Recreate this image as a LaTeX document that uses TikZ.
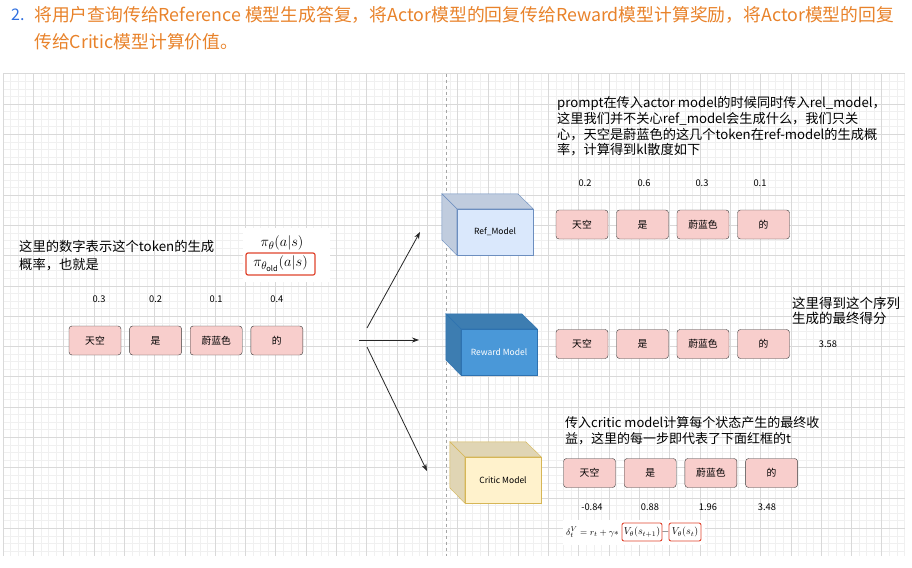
\documentclass[tikz,border=0pt]{standalone}
\usepackage{fontspec}
\setmainfont{Noto Sans CJK SC}
\usetikzlibrary{positioning, calc, arrows.meta}
\definecolor{headblue}{HTML}{2F6FE0}
\definecolor{headorange}{HTML}{E8822A}
\definecolor{tokpink}{HTML}{F8CECC}
\definecolor{tokedge}{HTML}{3A3A3A}
\definecolor{refblue}{HTML}{DAE8FC}
\definecolor{refedge}{HTML}{6C8EBF}
\definecolor{rwblue}{HTML}{4A98D8}
\definecolor{rwedge}{HTML}{2E72B0}
\definecolor{crityellow}{HTML}{FFF2CC}
\definecolor{critedge}{HTML}{D6B656}
\definecolor{boxred}{HTML}{E0442E}

\begin{document}
\begin{tikzpicture}[
    x=1pt, y=-1pt,
    minorline/.style={draw=black!6, line width=0.5pt},
    majorline/.style={draw=black!15, line width=0.6pt},
    token/.style={rectangle, draw=tokedge, fill=tokpink, rounded corners=3pt, minimum width=52pt, minimum height=29pt, inner sep=0pt, font=\fontsize{9.8}{10}\selectfont},
    prob/.style={inner sep=0pt, font=\fontsize{9.3}{10}\selectfont},
    note/.style={anchor=west, align=left, inner sep=0pt, font=\fontsize{13}{15.5}\selectfont},
    cubefront/.style={rectangle, minimum width=76pt, minimum height=46pt, inner sep=0pt, font=\fontsize{8.5}{9}\selectfont},
    redbox/.style={draw=boxred, line width=1.2pt, rounded corners=2pt, inner sep=0pt},
    feed/.style={-{Stealth[length=7pt,width=5pt]}, line width=0.8pt, black!85}
  ]
  \useasboundingbox (0,0) rectangle (912,567);

  % --- Heading ---
  \node[anchor=west, inner sep=0pt, text=headblue, font=\fontsize{16}{16}\selectfont] (num) at (11,15) {2.};
  \node[anchor=west, inner sep=0pt, text=headorange, font=\fontsize{17.8}{27}\selectfont, align=left] (head) at (34,28)
    {将用户查询传给Reference 模型生成答复，将Actor模型的回复传给Reward模型计算奖励，将Actor模型的回复\\传给Critic模型计算价值。};

  % --- Canvas grid ---
  \fill[white] (3,73.7) rectangle (905,556);
  \foreach \i in {0,...,119} \draw[minorline] ({3+\i*7.575},73.7) -- ({3+\i*7.575},556);
  \foreach \j in {0,...,63} \draw[minorline] (3,{73.7+\j*7.575}) -- (905,{73.7+\j*7.575});
  \foreach \i in {0,...,29} \draw[majorline] ({3+\i*30.3},73.7) -- ({3+\i*30.3},556);
  \foreach \j in {0,...,15} \draw[majorline] (3,{73.7+\j*30.3}) -- (905,{73.7+\j*30.3});
  \draw[black!35, dashed, line width=0.6pt] (446.5,73.7) -- (446.5,556);

  % --- Input tokens ---
  \node[note, font=\fontsize{13.3}{18}\selectfont] (intro) at (19,256) {这里的数字表示这个token的生成\\概率，也就是};
  \fill[white] (243,228) rectangle (330,282);
  \node[inner sep=0pt, font=\fontsize{15}{15}\selectfont] (pinum) at (282,243) {$\pi_\theta(a|s)$};
  \node[redbox, minimum width=69pt, minimum height=22pt, font=\fontsize{15}{15}\selectfont] (piden) at (280.5,264) {$\pi_{\theta_{\mathrm{old}}}(a|s)$};
  \foreach \w/\p [count=\i] in {天空/0.3, 是/0.2, 蔚蓝色/0.1, 的/0.4} {
    \node[token] (in\i) at ({95+60.6*(\i-1)},340.5) {\w};
    \node[prob, above=23pt of in\i, xshift={(\i==1)*4pt}] (inp\i) {\p};
  }

  % --- Feeds ---
  \coordinate (upstart) at (367,328);
  \coordinate (midstart) at (359,340);
  \coordinate (lowstart) at (367,347);
  \coordinate (upend) at (420,232);
  \coordinate (midend) at (419,340);
  \coordinate (lowend) at (427,471);
  \draw[feed] (upstart) -- (upend);
  \draw[feed] (midstart) -- (midend);
  \draw[feed] (lowstart) -- (lowend);

  % --- Ref model ---
  \node[cubefront, draw=refedge, fill=refblue] (ref) at (495,232) {Ref\_Model};
  \draw[draw=refedge, fill=refblue!88!black] (ref.north west) -- ++(-15,-15) -- ++(76,0) -- (ref.north east) -- cycle;
  \draw[draw=refedge, fill=refblue!88!black] (ref.north west) -- ++(-15,-15) -- ++(0,46) -- (ref.south west) -- cycle;
  \node[note, font=\fontsize{13.2}{15.6}\selectfont] (refnote) at (557,126.5)
    {prompt在传入actor model的时候同时传入rel\_model，\\这里我们并不关心ref\_model会生成什么，我们只关\\心，天空是蔚蓝色的这几个token在ref-model的生成概\\率，计算得到kl散度如下};
  \foreach \w/\p/\px [count=\i] in {天空/0.2/585, 是/0.6/644, 蔚蓝色/0.3/702, 的/0.1/760} {
    \node[token] (rf\i) at ({582+60.5*(\i-1)},224.5) {\w};
    \node[prob] (rfp\i) at (\px,183) {\p};
  }

  % --- Reward model ---
  \node[cubefront, draw=rwedge, fill=rwblue, text=white] (rw) at (499,352) {Reward Model};
  \draw[draw=rwedge, fill=rwblue!82!black] (rw.north west) -- ++(-15,-15) -- ++(76,0) -- (rw.north east) -- cycle;
  \draw[draw=rwedge, fill=rwblue!82!black] (rw.north west) -- ++(-15,-15) -- ++(0,46) -- (rw.south west) -- cycle;
  \foreach \w [count=\i] in {天空, 是, 蔚蓝色, 的}
    \node[token] (rt\i) at ({582+60.5*(\i-1)},344) {\w};
  \node[note, font=\fontsize{13.5}{15}\selectfont] (rwnote) at (792,310.5) {这里得到这个序列\\生成的最终得分};
  \node[prob] (score) at (828,344) {3.58};

  % --- Critic model ---
  \node[cubefront, draw=critedge, fill=crityellow] (crit) at (503,480) {Critic Model};
  \draw[draw=critedge, fill=crityellow!88!black] (crit.north west) -- ++(-15,-15) -- ++(76,0) -- (crit.north east) -- cycle;
  \draw[draw=critedge, fill=crityellow!88!black] (crit.north west) -- ++(-15,-15) -- ++(0,46) -- (crit.south west) -- cycle;
  \node[note, font=\fontsize{13}{16}\selectfont] (critnote) at (565,431) {传入critic model计算每个状态产生的最终收\\益，这里的每一步即代表了下面红框的t};
  \foreach \w/\p/\px [count=\i] in {天空/-0.84/592, 是/0.88/650, 蔚蓝色/1.96/708, 的/3.48/767} {
    \node[token] (ct\i) at ({589.5+60.7*(\i-1)},473) {\w};
    \node[prob] (ctp\i) at (\px,507) {\p};
  }
  \fill[white] (563,520) rectangle (705,545);
  \node[anchor=west, inner sep=0pt, font=\fontsize{9.4}{10}\selectfont] (delta) at (566,532) {$\delta_t^V = r_t + \gamma *$};
  \node[redbox, line width=0.9pt, minimum width=40pt, minimum height=18pt, font=\fontsize{9.6}{10}\selectfont] (vnext) at (642,532) {$V_\theta(s_{t+1})$};
  \node[inner sep=0pt, font=\fontsize{10}{10}\selectfont] (minus) at (665.5,532) {$-$};
  \node[redbox, line width=0.9pt, minimum width=32pt, minimum height=18pt, font=\fontsize{9.6}{10}\selectfont] (vnow) at (685,532) {$V_\theta(s_t)$};
\end{tikzpicture}
\end{document}
